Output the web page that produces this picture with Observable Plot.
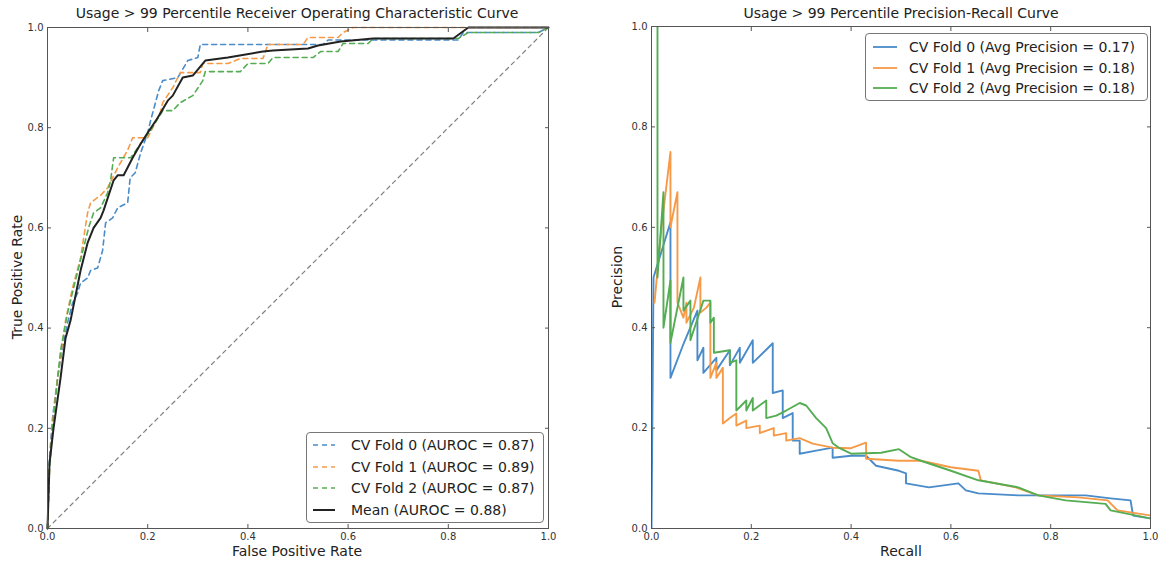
<!DOCTYPE html>
<html><head><meta charset="utf-8">
<script src="https://cdn.jsdelivr.net/npm/d3@7"></script>
<script src="https://cdn.jsdelivr.net/npm/@observablehq/plot@0.6"></script>
<style>
body{margin:0;background:#fff;font-family:"DejaVu Sans",sans-serif;}
#fig{position:relative;width:1159px;height:563px;overflow:hidden;background:#fff;}
.panel{position:absolute;top:0;}
.title{position:absolute;font-size:14px;color:#222;white-space:nowrap;transform:translateX(-50%);line-height:16px;}
.xlabel{position:absolute;font-size:14px;color:#222;transform:translateX(-50%);white-space:nowrap;line-height:16px;}
.ylabel{position:absolute;font-size:14px;color:#222;transform:translate(-50%,-50%) rotate(-90deg);white-space:nowrap;line-height:16px;}
.legend{position:absolute;border:1px solid #777;border-radius:4px;background:#fff;font-size:14px;color:#222;box-sizing:border-box;}
.legend .row{display:flex;align-items:center;white-space:nowrap;}
.legend svg{flex:none;}
</style></head>
<body>
<div id="fig"></div>
<script>
// ---------- data ----------
const tickValues = [0, 0.2, 0.4, 0.6, 0.8, 1.0];
const foldNames = ["CV Fold 0", "CV Fold 1", "CV Fold 2"];
const foldColors = ["#4a8bc9", "#f69a48", "#55ad53"];
const aurocValues = [0.87, 0.89, 0.87];
const meanAuroc = 0.88;
const avgPrecisionValues = [0.17, 0.18, 0.18];

// ROC, fold 0
const rocFold0Fpr = [0, 0.004, 0.01, 0.02, 0.03, 0.04, 0.05, 0.06, 0.066, 0.08, 0.086, 0.10, 0.11, 0.116, 0.13, 0.14, 0.16, 0.165, 0.175, 0.186, 0.20, 0.206, 0.222, 0.23, 0.26, 0.28, 0.30, 0.305, 0.55, 0.56, 0.82, 0.83, 0.98, 1.0];
const rocFold0Tpr = [0, 0.14, 0.22, 0.30, 0.36, 0.41, 0.45, 0.47, 0.49, 0.50, 0.515, 0.52, 0.555, 0.61, 0.62, 0.64, 0.65, 0.70, 0.71, 0.75, 0.79, 0.815, 0.874, 0.894, 0.90, 0.934, 0.94, 0.966, 0.966, 0.975, 0.975, 0.99, 0.99, 1.0];
// ROC, fold 1
const rocFold1Fpr = [0, 0.004, 0.01, 0.02, 0.036, 0.05, 0.066, 0.08, 0.086, 0.106, 0.12, 0.14, 0.16, 0.17, 0.20, 0.225, 0.23, 0.25, 0.265, 0.305, 0.31, 0.36, 0.385, 0.43, 0.44, 0.51, 0.52, 0.58, 0.59, 0.61, 1.0];
const rocFold1Tpr = [0, 0.12, 0.21, 0.30, 0.415, 0.48, 0.54, 0.63, 0.65, 0.665, 0.68, 0.72, 0.755, 0.78, 0.78, 0.83, 0.85, 0.88, 0.91, 0.91, 0.928, 0.928, 0.938, 0.938, 0.966, 0.966, 0.98, 0.98, 0.99, 1.0, 1.0];
// ROC, fold 2
const rocFold2Fpr = [0, 0.004, 0.01, 0.026, 0.04, 0.052, 0.072, 0.082, 0.092, 0.106, 0.12, 0.126, 0.132, 0.166, 0.186, 0.206, 0.23, 0.25, 0.265, 0.29, 0.31, 0.315, 0.385, 0.40, 0.44, 0.45, 0.53, 0.545, 0.58, 0.59, 0.64, 0.65, 0.82, 0.84, 0.98, 1.0];
const rocFold2Tpr = [0, 0.12, 0.2, 0.355, 0.43, 0.48, 0.56, 0.60, 0.63, 0.64, 0.67, 0.695, 0.74, 0.74, 0.768, 0.795, 0.834, 0.834, 0.85, 0.864, 0.894, 0.912, 0.912, 0.928, 0.928, 0.94, 0.94, 0.952, 0.952, 0.968, 0.968, 0.978, 0.978, 0.99, 0.99, 1.0];
// ROC, mean
const rocMeanFpr = [0, 0.004, 0.012, 0.026, 0.036, 0.046, 0.066, 0.08, 0.092, 0.106, 0.112, 0.132, 0.14, 0.152, 0.17, 0.186, 0.20, 0.22, 0.24, 0.25, 0.27, 0.29, 0.315, 0.36, 0.43, 0.45, 0.52, 0.54, 0.585, 0.65, 0.81, 0.84, 1.0];
const rocMeanTpr = [0, 0.13, 0.2, 0.30, 0.38, 0.415, 0.515, 0.57, 0.60, 0.62, 0.635, 0.695, 0.705, 0.705, 0.74, 0.768, 0.79, 0.82, 0.854, 0.864, 0.90, 0.904, 0.934, 0.94, 0.952, 0.954, 0.958, 0.964, 0.972, 0.978, 0.978, 1.0, 1.0];
// chance diagonal
const chanceX = [0, 1];
const chanceY = [0, 1];

// Precision-Recall, fold 0
const prFold0Recall = [0, 0.004, 0.038, 0.038, 0.065, 0.092, 0.092, 0.104, 0.104, 0.13, 0.13, 0.157, 0.157, 0.177, 0.177, 0.203, 0.203, 0.243, 0.243, 0.263, 0.263, 0.283, 0.283, 0.297, 0.297, 0.33, 0.363, 0.363, 0.40, 0.43, 0.45, 0.496, 0.51, 0.51, 0.556, 0.615, 0.63, 0.655, 0.735, 0.87, 0.92, 0.96, 0.965, 1.0];
const prFold0Precision = [0, 0.5, 0.61, 0.30, 0.37, 0.434, 0.335, 0.36, 0.31, 0.34, 0.315, 0.355, 0.325, 0.36, 0.33, 0.375, 0.33, 0.369, 0.27, 0.275, 0.22, 0.23, 0.175, 0.175, 0.149, 0.155, 0.161, 0.141, 0.145, 0.145, 0.125, 0.115, 0.11, 0.09, 0.082, 0.09, 0.076, 0.07, 0.066, 0.066, 0.06, 0.056, 0.026, 0.02];
// Precision-Recall, fold 1
const prFold1Recall = [0.006, 0.02, 0.038, 0.038, 0.052, 0.052, 0.064, 0.07, 0.07, 0.085, 0.098, 0.098, 0.11, 0.118, 0.118, 0.13, 0.13, 0.143, 0.143, 0.157, 0.17, 0.17, 0.19, 0.19, 0.217, 0.217, 0.245, 0.245, 0.27, 0.27, 0.297, 0.323, 0.363, 0.40, 0.43, 0.43, 0.496, 0.54, 0.60, 0.655, 0.66, 0.73, 0.775, 0.855, 0.914, 0.934, 1.0];
const prFold1Precision = [0.45, 0.6, 0.75, 0.6, 0.67, 0.45, 0.42, 0.45, 0.41, 0.44, 0.5, 0.43, 0.44, 0.45, 0.30, 0.33, 0.30, 0.32, 0.209, 0.22, 0.229, 0.205, 0.215, 0.2, 0.205, 0.19, 0.2, 0.185, 0.19, 0.175, 0.18, 0.169, 0.161, 0.16, 0.171, 0.139, 0.135, 0.135, 0.122, 0.115, 0.096, 0.082, 0.066, 0.062, 0.056, 0.036, 0.026];
// Precision-Recall, fold 2
const prFold2Recall = [0.012, 0.012, 0.024, 0.024, 0.038, 0.038, 0.064, 0.064, 0.078, 0.078, 0.104, 0.118, 0.118, 0.125, 0.125, 0.157, 0.157, 0.17, 0.17, 0.19, 0.19, 0.203, 0.203, 0.23, 0.23, 0.25, 0.27, 0.297, 0.31, 0.33, 0.35, 0.363, 0.377, 0.40, 0.46, 0.496, 0.52, 0.54, 0.60, 0.655, 0.735, 0.775, 0.83, 0.91, 0.92, 1.0];
const prFold2Precision = [1.0, 0.5, 0.67, 0.40, 0.494, 0.37, 0.5, 0.434, 0.454, 0.375, 0.454, 0.454, 0.41, 0.42, 0.35, 0.355, 0.33, 0.335, 0.235, 0.255, 0.235, 0.26, 0.235, 0.255, 0.22, 0.225, 0.235, 0.25, 0.245, 0.22, 0.2, 0.17, 0.16, 0.149, 0.151, 0.158, 0.142, 0.135, 0.115, 0.096, 0.082, 0.066, 0.056, 0.049, 0.036, 0.02];

// ---------- build tables ----------
const zipRows = (xs, ys, series) => xs.map((x, i) => ({x, y: ys[i], series}));
const rocFolds = [
  ...zipRows(rocFold0Fpr, rocFold0Tpr, foldNames[0]),
  ...zipRows(rocFold1Fpr, rocFold1Tpr, foldNames[1]),
  ...zipRows(rocFold2Fpr, rocFold2Tpr, foldNames[2])
];
const rocMean = zipRows(rocMeanFpr, rocMeanTpr, "Mean");
const chance = zipRows(chanceX, chanceY, "chance");
const prFolds = [
  ...zipRows(prFold0Recall, prFold0Precision, foldNames[0]),
  ...zipRows(prFold1Recall, prFold1Precision, foldNames[1]),
  ...zipRows(prFold2Recall, prFold2Precision, foldNames[2])
];

const fmt = d3.format(".1f");
const baseStyle = {fontFamily: "DejaVu Sans", fontSize: "10px", color: "#333", background: "transparent", overflow: "visible"};
const colorScale = {domain: foldNames, range: foldColors};

function axes() {
  return [
    Plot.frame({stroke: "#555", strokeWidth: 1}),
    Plot.axisX({ticks: tickValues, tickFormat: fmt, tickSize: -4, tickPadding: 8, label: null, stroke: "#555"}),
    Plot.axisX({anchor: "top", ticks: tickValues, tickFormat: () => "", tickSize: -4, label: null, stroke: "#555"}),
    Plot.axisY({ticks: tickValues, tickFormat: fmt, tickSize: -4, tickPadding: 8, label: null, stroke: "#555"}),
    Plot.axisY({anchor: "right", ticks: tickValues, tickFormat: () => "", tickSize: -4, label: null, stroke: "#555"})
  ];
}

const rocChart = Plot.plot({
  width: 580, height: 563,
  marginLeft: 47, marginRight: 32, marginTop: 27, marginBottom: 35,
  x: {domain: [0, 1]}, y: {domain: [0, 1]},
  color: colorScale,
  style: baseStyle,
  marks: [
    Plot.line(chance, {x: "x", y: "y", stroke: "#808080", strokeWidth: 1.2, strokeDasharray: "4,4"}),
    Plot.line(rocFolds, {x: "x", y: "y", z: "series", stroke: "series", strokeWidth: 1.6, strokeDasharray: "5,4"}),
    Plot.line(rocMean, {x: "x", y: "y", stroke: "#222", strokeWidth: 2}),
    ...axes()
  ]
});

const prChart = Plot.plot({
  width: 579, height: 563,
  marginLeft: 71, marginRight: 9, marginTop: 26, marginBottom: 35,
  x: {domain: [0, 1]}, y: {domain: [0, 1]},
  color: colorScale,
  style: baseStyle,
  marks: [
    Plot.line(prFolds, {x: "x", y: "y", z: "series", stroke: "series", strokeWidth: 1.9, clip: true}),
    ...axes()
  ]
});

// ---------- layout ----------
const fig = document.getElementById("fig");
function place(el, left) {
  const wrap = document.createElement("div");
  wrap.className = "panel";
  wrap.style.left = left + "px";
  wrap.appendChild(el);
  fig.appendChild(wrap);
}
place(rocChart, 0);
place(prChart, 580);

function addText(cls, text, left, top) {
  const d = document.createElement("div");
  d.className = cls;
  d.textContent = text;
  d.style.left = left + "px";
  d.style.top = top + "px";
  fig.appendChild(d);
}
addText("title", "Usage > 99 Percentile Receiver Operating Characteristic Curve", 297, 5);
addText("title", "Usage > 99 Percentile Precision-Recall Curve", 901, 5);
addText("xlabel", "False Positive Rate", 297, 543);
addText("xlabel", "Recall", 901, 543);
addText("ylabel", "True Positive Rate", 17, 277);
addText("ylabel", "Precision", 617, 277);

function addLegend(entries, box, rowH, padTop, sampleLeft, sampleW, gap) {
  const lg = document.createElement("div");
  lg.className = "legend";
  Object.assign(lg.style, {left: box.left + "px", top: box.top + "px", width: box.width + "px", height: box.height + "px", paddingTop: padTop + "px"});
  for (const e of entries) {
    const row = document.createElement("div");
    row.className = "row";
    row.style.height = rowH + "px";
    row.style.paddingLeft = sampleLeft + "px";
    const svg = d3.create("svg").attr("width", sampleW).attr("height", 8).style("margin-right", gap + "px");
    svg.append("line").attr("x1", 0).attr("x2", sampleW).attr("y1", 4).attr("y2", 4)
      .attr("stroke", e.color).attr("stroke-width", e.width).attr("stroke-dasharray", e.dash || null);
    row.appendChild(svg.node());
    const span = document.createElement("span");
    span.textContent = e.label;
    row.appendChild(span);
    lg.appendChild(row);
  }
  fig.appendChild(lg);
}
addLegend([
  ...foldNames.map((n, i) => ({label: `${n} (AUROC = ${aurocValues[i].toFixed(2)})`, color: foldColors[i], width: 1.6, dash: "5,4"})),
  {label: `Mean (AUROC = ${meanAuroc.toFixed(2)})`, color: "#222", width: 2}
], {left: 306, top: 432, width: 238, height: 91}, 21.7, 1, 6, 22, 16);
addLegend(
  foldNames.map((n, i) => ({label: `${n} (Avg Precision = ${avgPrecisionValues[i].toFixed(2)})`, color: foldColors[i], width: 1.8})),
  {left: 865, top: 33, width: 283, height: 68}, 20.5, 3, 7, 24, 12
);
</script>
</body></html>
